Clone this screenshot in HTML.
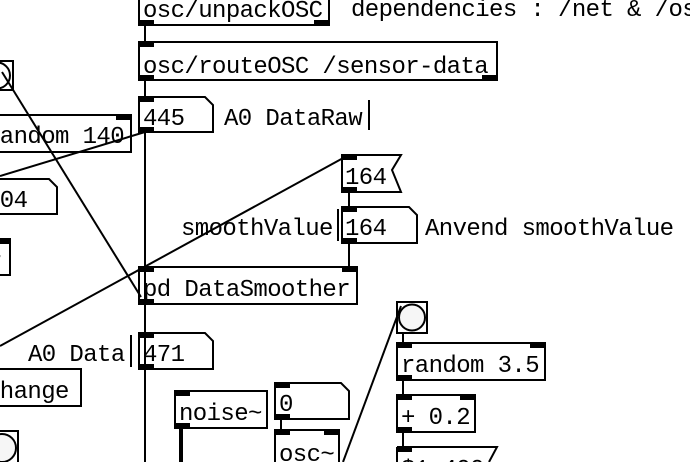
<!DOCTYPE html>
<html><head><meta charset="utf-8"><style>
html,body{margin:0;padding:0;background:#fff;}
svg{display:block}
text{font-family:"Liberation Mono",monospace;font-size:24px;letter-spacing:-0.6px;fill:#000}
</style></head><body>
<svg width="690" height="462" viewBox="0 0 690 462" xmlns="http://www.w3.org/2000/svg">
<g fill="none" stroke="#000" stroke-width="2">
<line x1="145" y1="25" x2="145" y2="42"/>
<line x1="145" y1="80" x2="145" y2="97"/>
<line x1="145" y1="132" x2="145" y2="462"/>
<line x1="145" y1="132" x2="0" y2="176"/>
<line x1="2" y1="72" x2="141" y2="297"/>
<line x1="345" y1="157" x2="0" y2="346"/>
<line x1="349" y1="192" x2="349" y2="207"/>
<line x1="349" y1="243" x2="349" y2="267"/>
<line x1="281" y1="419" x2="281" y2="430"/>
<line x1="403" y1="333" x2="403" y2="343"/>
<line x1="403" y1="380" x2="403" y2="395"/>
<line x1="403" y1="432" x2="403" y2="447"/>
<line x1="401" y1="306" x2="343" y2="462"/>
<line x1="181" y1="428" x2="181" y2="462" stroke-width="4"/>
<rect x="139" y="-5" width="190" height="30"/>
<rect x="139" y="42" width="358" height="38"/>
<path d="M139 97 H205 L213 105 V132 H139 Z"/>
<rect x="-5" y="115" width="136" height="37"/>
<path d="M-5 179 H49 L57 187 V214 H-5 Z"/>
<rect x="-5" y="239" width="15" height="36"/>
<path d="M342 155 H401 L392 170 L401 192 H342 Z"/>
<path d="M342 207 H409 L417 215 V243 H342 Z"/>
<line x1="338" y1="209" x2="338" y2="241"/>
<rect x="139" y="267" width="218" height="37"/>
<path d="M139 333 H205 L213 341 V369 H139 Z"/>
<line x1="131" y1="335" x2="131" y2="367"/>
<rect x="-5" y="369" width="86" height="37"/>
<rect x="175" y="391" width="92" height="37"/>
<path d="M275 383 H341 L349 391 V419 H275 Z"/>
<rect x="275" y="430" width="64" height="40"/>
<rect x="397" y="302" width="30" height="31"/>
<circle cx="412" cy="317.5" r="13" fill="#f6f6f6"/>
<rect x="-20" y="61" width="33" height="29"/>
<circle cx="-3" cy="75.5" r="13"/>
<rect x="-20" y="431" width="38" height="40"/>
<circle cx="2" cy="448" r="14" fill="#f6f6f6"/>
<rect x="397" y="343" width="148" height="37"/>
<rect x="397" y="395" width="78" height="37"/>
<path d="M397 447 H497 L489 462"/>
<line x1="397" y1="447" x2="397" y2="462"/>
<line x1="369" y1="100" x2="369" y2="130"/>
</g>
<g fill="#000">
<rect x="139" y="20" width="15" height="5"/><rect x="314" y="20" width="15" height="5"/>
<rect x="139" y="42" width="15" height="5"/><rect x="139" y="75" width="15" height="5"/><rect x="482" y="75" width="15" height="5"/>
<rect x="139" y="97" width="15" height="5"/><rect x="139" y="127" width="15" height="5"/>
<rect x="116" y="115" width="15" height="5"/>
<rect x="342" y="155" width="15" height="5"/><rect x="342" y="187" width="15" height="5"/>
<rect x="342" y="207" width="15" height="5"/><rect x="342" y="238" width="15" height="5"/>
<rect x="139" y="267" width="15" height="5"/><rect x="342" y="267" width="15" height="5"/><rect x="139" y="299" width="15" height="5"/>
<rect x="139" y="333" width="15" height="5"/><rect x="139" y="364" width="15" height="5"/>
<rect x="-5" y="239" width="15" height="5"/>
<rect x="175" y="391" width="15" height="5"/><rect x="175" y="423" width="15" height="5"/>
<rect x="275" y="383" width="15" height="5"/><rect x="275" y="414" width="15" height="5"/>
<rect x="275" y="430" width="15" height="5"/><rect x="324" y="430" width="15" height="5"/>
<rect x="397" y="343" width="15" height="5"/><rect x="530" y="343" width="15" height="5"/><rect x="397" y="375" width="15" height="5"/>
<rect x="397" y="395" width="15" height="5"/><rect x="460" y="395" width="15" height="5"/><rect x="397" y="427" width="15" height="5"/>
<rect x="397" y="447" width="15" height="5"/>
</g>
<text x="143" y="17">osc/unpackOSC</text>
<text x="351" y="16">dependencies : /net &amp; /osc</text>
<text x="143" y="73">osc/routeOSC /sensor-data</text>
<text x="143" y="125">445</text>
<text x="224" y="125">A0 DataRaw</text>
<text x="-14" y="143">random 140</text>
<text x="-14" y="207">004</text>
<text x="-12" y="268">r</text>
<text x="345" y="184">164</text>
<text x="181" y="235">smoothValue</text>
<text x="345" y="235">164</text>
<text x="425" y="235">Anvend smoothValue</text>
<text x="143" y="296">pd DataSmoother</text>
<text x="28" y="361">A0 Data</text>
<text x="143" y="361">471</text>
<text x="-14" y="398">change</text>
<text x="179" y="420">noise~</text>
<text x="279" y="411">0</text>
<text x="279" y="461">osc~</text>
<text x="401" y="372">random 3.5</text>
<text x="401" y="424">+ 0.2</text>
<text x="401" y="476">$1 400</text>
</svg>
</body></html>
